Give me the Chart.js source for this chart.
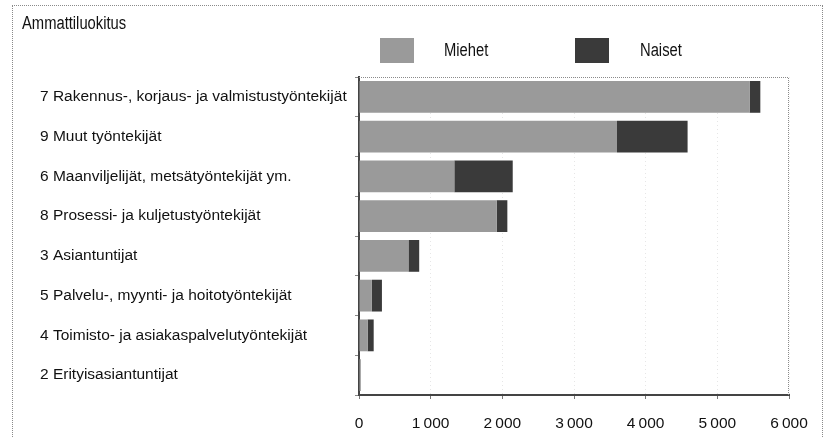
<!DOCTYPE html>
<html>
<head>
<meta charset="utf-8">
<script src="https://cdn.jsdelivr.net/npm/chart.js@4.4.1/dist/chart.umd.min.js"></script>
<style>
  html, body { margin: 0; padding: 0; background: #fff; }
  #wrap { position: relative; width: 824px; height: 438px; overflow: hidden; }
  #frame { position: absolute; left: 12px; top: 5px; width: 809px; height: 450px; border: 1px dotted #8a8a8a; }
  .txt { position: absolute; font-family: 'Liberation Sans', Arial, sans-serif; font-size: 18px; color: #111; line-height: 1;
         transform: scaleX(0.82); transform-origin: 0 0; white-space: nowrap; }
  .sw { position: absolute; width: 34px; height: 25px; }
  canvas { position: absolute; left: 0; top: 0; }
</style>
</head>
<body>
<div id="wrap">
  <div id="frame"></div>
  <canvas id="barChart" width="824" height="438"></canvas>
  <div class="txt" style="left:22px; top:14px;">Ammattiluokitus</div>
  <div class="sw" id="swM" style="left:380px; top:38px;"></div>
  <div class="txt" style="left:444px; top:41px;">Miehet</div>
  <div class="sw" id="swN" style="left:575px; top:38px;"></div>
  <div class="txt" style="left:640px; top:41px;">Naiset</div>
</div>
<script>
const categories = [
  '7 Rakennus-, korjaus- ja valmistustyöntekijät',
  '9 Muut työntekijät',
  '6 Maanviljelijät, metsätyöntekijät ym.',
  '8 Prosessi- ja kuljetustyöntekijät',
  '3 Asiantuntijat',
  '5 Palvelu-, myynti- ja hoitotyöntekijät',
  '4 Toimisto- ja asiakaspalvelutyöntekijät',
  '2 Erityisasiantuntijat'
];
const miehet = [5450, 3600, 1330, 1920, 690, 180, 120, 20];
const naiset = [150, 985, 815, 150, 150, 140, 85, 5];
const xTicks = [0, 1000, 2000, 3000, 4000, 5000, 6000];

const colM = '#9a9a9a';
const colN = '#3a3a3a';
document.getElementById('swM').style.background = colM;
document.getElementById('swN').style.background = colN;

const fontFamily = "'Liberation Sans', Arial, sans-serif";

// dotted top/right border of the plot area
const plotFrame = {
  id: 'plotFrame',
  afterDraw(chart) {
    const a = chart.chartArea, ctx = chart.ctx;
    ctx.save();
    ctx.strokeStyle = '#8a8a8a';
    ctx.lineWidth = 1;
    ctx.setLineDash([1, 1]);
    ctx.beginPath();
    ctx.moveTo(a.left, a.top + 0.5);
    ctx.lineTo(a.right - 0.5, a.top + 0.5);
    ctx.lineTo(a.right - 0.5, a.bottom);
    ctx.stroke();
    ctx.restore();
  }
};

new Chart(document.getElementById('barChart'), {
  type: 'bar',
  data: {
    labels: categories,
    datasets: [
      {
        label: 'Miehet',
        data: miehet,
        backgroundColor: colM,
        barPercentage: 0.8,
        categoryPercentage: 1
      },
      {
        label: 'Naiset',
        data: naiset,
        backgroundColor: colN,
        barPercentage: 0.8,
        categoryPercentage: 1
      }
    ]
  },
  options: {
    indexAxis: 'y',
    responsive: false,
    animation: false,
    layout: {
      padding: { left: 40, top: 77, right: 35, bottom: 0 }
    },
    plugins: {
      legend: { display: false },
      tooltip: { enabled: false }
    },
    scales: {
      x: {
        stacked: true,
        min: 0,
        max: 6000,
        afterBuildTicks(scale) {
          scale.ticks = xTicks.map(v => ({ value: v }));
        },
        afterFit(scale) {
          scale.height = 43;
        },
        ticks: {
          padding: 15,
          color: '#111',
          font: { family: fontFamily, size: 15.5 },
          callback: v => String(v).replace(/\B(?=(\d{3})+(?!\d))/g, '\u2009')
        },
        grid: {
          color: '#e6e6e6',
          tickColor: '#777',
          tickLength: 4
        },
        border: {
          display: true,
          color: '#444',
          width: 2,
          dash: [1, 3]
        }
      },
      y: {
        stacked: true,
        afterFit(scale) {
          scale.width = 319;
        },
        ticks: {
          crossAlign: 'far',
          color: '#111',
          font: { family: fontFamily, size: 15.5 }
        },
        grid: {
          drawOnChartArea: false,
          tickColor: '#888',
          tickLength: 4
        },
        border: {
          display: true,
          color: '#444',
          width: 2
        }
      }
    }
  },
  plugins: [plotFrame]
});
</script>
</body>
</html>
